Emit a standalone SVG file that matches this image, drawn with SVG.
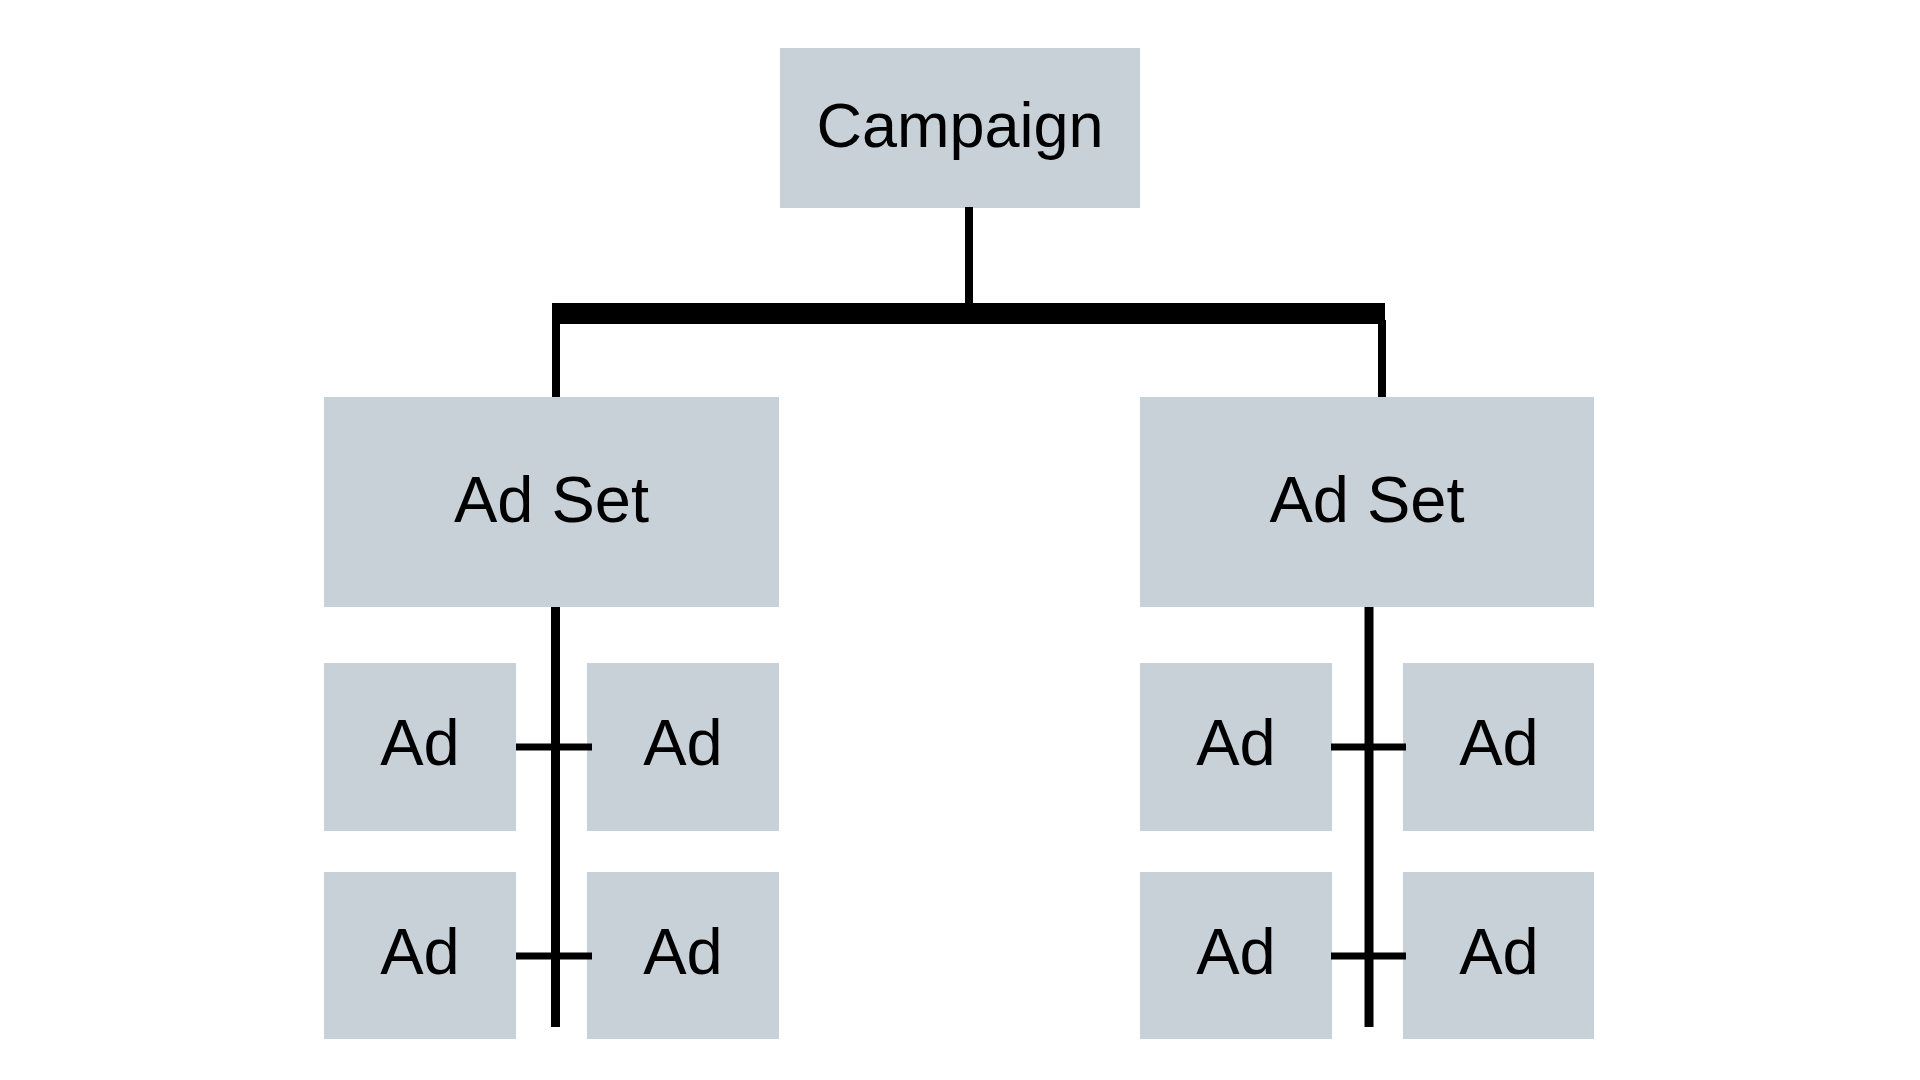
<svg xmlns="http://www.w3.org/2000/svg" width="1920" height="1080" viewBox="0 0 1920 1080">
<style>
.box{fill:#c8d0d8}
.lbl{font-family:"Liberation Sans",Arial,sans-serif;fill:#000;text-anchor:middle}
.ln{stroke:#000;fill:none;stroke-linecap:butt}
</style>
<rect width="1920" height="1080" fill="#fff"/>
<g id="campaign"><rect class="box" x="780" y="48" width="360" height="160"/><text class="lbl" x="960" y="147" font-size="63">Campaign</text></g>
<g id="adset-left"><rect class="box" x="324" y="397" width="455" height="210"/><text class="lbl" x="551.5" y="522" font-size="65">Ad Set</text></g>
<g id="adset-right"><rect class="box" x="1140" y="397" width="454" height="210"/><text class="lbl" x="1367" y="522" font-size="65">Ad Set</text></g>
<g id="ad-l1"><rect class="box" x="324" y="663" width="192" height="168"/><text class="lbl" x="420" y="765" font-size="65">Ad</text></g>
<g id="ad-l2"><rect class="box" x="587" y="663" width="192" height="168"/><text class="lbl" x="683" y="765" font-size="65">Ad</text></g>
<g id="ad-l3"><rect class="box" x="324" y="872" width="192" height="167"/><text class="lbl" x="420" y="974" font-size="65">Ad</text></g>
<g id="ad-l4"><rect class="box" x="587" y="872" width="192" height="167"/><text class="lbl" x="683" y="974" font-size="65">Ad</text></g>
<g id="ad-r1"><rect class="box" x="1140" y="663" width="192" height="168"/><text class="lbl" x="1236" y="765" font-size="65">Ad</text></g>
<g id="ad-r2"><rect class="box" x="1403" y="663" width="191" height="168"/><text class="lbl" x="1499" y="765" font-size="65">Ad</text></g>
<g id="ad-r3"><rect class="box" x="1140" y="872" width="192" height="167"/><text class="lbl" x="1236" y="974" font-size="65">Ad</text></g>
<g id="ad-r4"><rect class="box" x="1403" y="872" width="191" height="167"/><text class="lbl" x="1499" y="974" font-size="65">Ad</text></g>
<g id="connectors">
<line class="ln" x1="969" y1="207" x2="969" y2="304" stroke-width="8"/>
<line class="ln" x1="552" y1="313.5" x2="1385" y2="313.5" stroke-width="21"/>
<line class="ln" x1="556" y1="320" x2="556" y2="397" stroke-width="8"/>
<line class="ln" x1="1382" y1="320" x2="1382" y2="397" stroke-width="8"/>
<line class="ln" x1="555.5" y1="607" x2="555.5" y2="1027" stroke-width="9"/>
<line class="ln" x1="1369" y1="607" x2="1369" y2="1027" stroke-width="9"/>
<line class="ln" x1="516" y1="747" x2="592" y2="747" stroke-width="7"/>
<line class="ln" x1="516" y1="956" x2="592" y2="956" stroke-width="7"/>
<line class="ln" x1="1331" y1="747" x2="1406" y2="747" stroke-width="7"/>
<line class="ln" x1="1331" y1="956" x2="1406" y2="956" stroke-width="7"/>
</g>
</svg>
